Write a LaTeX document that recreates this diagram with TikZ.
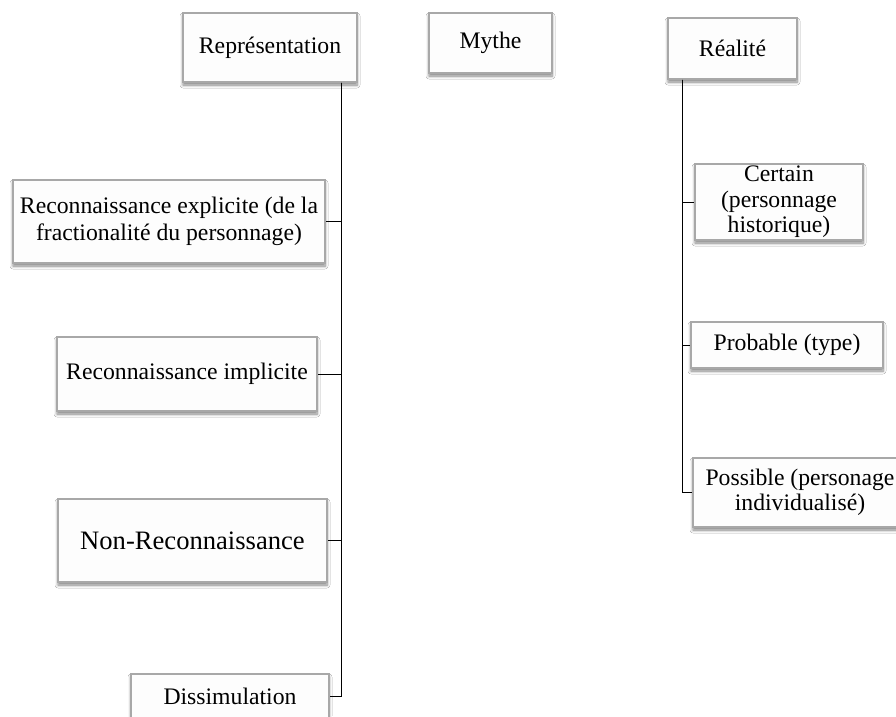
\documentclass[tikz,border=0pt]{standalone}
\usepackage{fontspec}
\setmainfont{Liberation Serif}
\usetikzlibrary{shadows.blur}
\definecolor{boxborder}{HTML}{A8A8A8}
\definecolor{boxfill}{HTML}{FDFDFD}
\begin{document}
\begin{tikzpicture}[x=1pt,y=-1pt,
  box/.style={draw=boxborder, line width=1.1pt, fill=boxfill, inner sep=0pt, align=center,
    font=\fontsize{23.7}{26.5}\selectfont,
    blur shadow={shadow xshift=0pt, shadow yshift=-3pt, shadow blur radius=3pt, shadow opacity=50, shadow blur steps=6}},
  conn/.style={draw=black, line width=0.9pt}]
\useasboundingbox (0,0) rectangle (896,716);
\clip (0,0) rectangle (896,716);
\fill[white] (0,0) rectangle (896,716);
% top row
\node[box, minimum width=174pt, minimum height=69pt] (rep) at (270,47.5) {Représentation};
\node[box, minimum width=123pt, minimum height=60pt] (mythe) at (490.5,43) {Mythe};
\node[box, minimum width=129pt, minimum height=61pt] (real) at (732.5,48.5) {Réalité};
% left column
\node[box, minimum width=312pt, minimum height=83pt] (expl) at (169,221.5) {Reconnaissance explicite (de la\\fractionalité du personnage)};
\node[box, minimum width=260pt, minimum height=74pt] (impl) at (187,374) {Reconnaissance implicite};
\node[box, minimum width=269pt, minimum height=83pt, font=\fontsize{26.6}{29}\selectfont] (nonr) at (192.5,540.5) {Non-Reconnaissance};
\node[box, minimum width=198pt, minimum height=44pt] (diss) at (230,696) {Dissimulation};
% right column
\node[box, minimum width=168pt, minimum height=76pt, font=\fontsize{23.7}{25.5}\selectfont] (cert) at (779,202) {Certain\\(personnage\\historique)};
\node[box, minimum width=192pt, minimum height=46pt] (prob) at (787,345) {Probable (type)};
\node[box, minimum width=214pt, minimum height=69pt, font=\fontsize{23.7}{25.5}\selectfont] (poss) at (800,492.5) {Possible (personage\\individualisé)};
% connectors
\coordinate (rt) at ([xshift=-16pt]rep.south east);
\coordinate (lt) at ([xshift=15pt]real.south west);
\draw[conn] (rt) |- (expl.east);
\draw[conn] (rt) |- (impl.east);
\draw[conn] (rt) |- (nonr.east);
\draw[conn] (rt) |- (diss.east);
\draw[conn] (lt) |- (cert.west);
\draw[conn] (lt) |- (prob.west);
\draw[conn] (lt) |- (poss.west);
\end{tikzpicture}
\end{document}
